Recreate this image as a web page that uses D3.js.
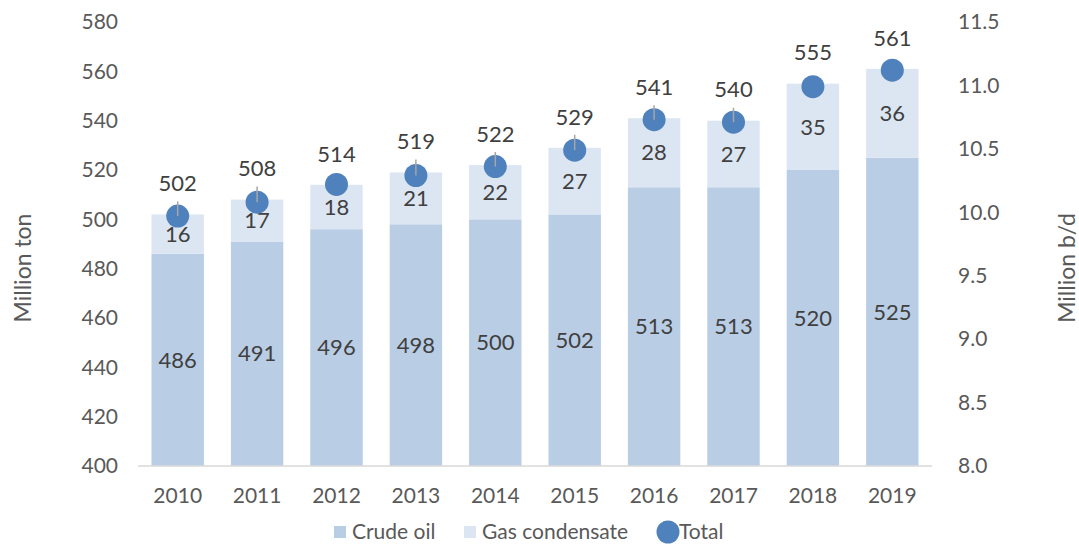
<!DOCTYPE html>
<html>
<head>
<meta charset="utf-8">
<script src="https://cdn.jsdelivr.net/npm/d3@7"></script>
<style>
  body { margin: 0; background: #fff; }
  svg text { font-family: Lato, "Open Sans", sans-serif; }
</style>
</head>
<body>
<div id="chart"></div>
<script>
// Data
const years = ["2010", "2011", "2012", "2013", "2014", "2015", "2016", "2017", "2018", "2019"];
const crudeOil = [486, 491, 496, 498, 500, 502, 513, 513, 520, 525];
const gasCondensate = [16, 17, 18, 21, 22, 27, 28, 27, 35, 36];
const totals = [502, 508, 514, 519, 522, 529, 541, 540, 555, 561];
const totalBd = [9.97, 10.08, 10.22, 10.29, 10.36, 10.49, 10.73, 10.71, 10.99, 11.12];
const leaderYears = ["2010", "2011", "2013", "2014", "2015", "2016", "2017"];
const leftTicks = d3.range(400, 581, 20);
const rightTicks = d3.range(8, 11.51, 0.5);

const width = 1079;
const height = 546;
const margin = { top: 22, right: 147, bottom: 80, left: 138 };

const svg = d3.select("#chart")
  .append("svg")
  .attr("width", width)
  .attr("height", height);

const x = d3.scaleBand()
  .domain(years)
  .range([margin.left, width - margin.right])
  .paddingInner(0.34)
  .paddingOuter(0.17);

const y = d3.scaleLinear()
  .domain([400, 580])
  .range([height - margin.bottom, margin.top]);

const y2 = d3.scaleLinear()
  .domain([8, 11.5])
  .range([height - margin.bottom, margin.top]);

const rows = years.map((yr, i) => ({
  year: yr,
  crude: crudeOil[i],
  gas: gasCondensate[i],
  total: totals[i],
  bd: totalBd[i]
}));

const cx = (d) => x(d.year) + x.bandwidth() / 2;
const labelOffset = 31;

// Bars: crude oil
svg.append("g")
  .selectAll("rect")
  .data(rows)
  .join("rect")
  .attr("x", (d) => x(d.year))
  .attr("width", x.bandwidth())
  .attr("y", (d) => y(d.crude))
  .attr("height", (d) => y(400) - y(d.crude))
  .attr("fill", "#b9cde5");

// Bars: gas condensate stacked on top
svg.append("g")
  .selectAll("rect")
  .data(rows)
  .join("rect")
  .attr("x", (d) => x(d.year))
  .attr("width", x.bandwidth())
  .attr("y", (d) => y(d.crude + d.gas))
  .attr("height", (d) => y(d.crude) - y(d.crude + d.gas))
  .attr("fill", "#dce6f2");

// Baseline
svg.append("line")
  .attr("x1", margin.left)
  .attr("x2", width - margin.right)
  .attr("y1", y(400))
  .attr("y2", y(400))
  .attr("stroke", "#d9d9d9")
  .attr("stroke-width", 1.5);

// Left axis
const leftAxis = svg.append("g")
  .attr("transform", `translate(${margin.left - 20},0)`)
  .call(d3.axisLeft(y).tickValues(leftTicks).tickSize(0).tickPadding(0));
leftAxis.select(".domain").remove();
leftAxis.selectAll("text")
  .attr("fill", "#595959")
  .style("font-size", "21px");

// Right axis
const rightAxis = svg.append("g")
  .attr("transform", `translate(${width - margin.right + 26},0)`)
  .call(d3.axisRight(y2).tickValues(rightTicks).tickFormat(d3.format(".1f")).tickSize(0).tickPadding(0));
rightAxis.select(".domain").remove();
rightAxis.selectAll("text")
  .attr("fill", "#595959")
  .style("font-size", "21px");

// Bottom axis
const bottomAxis = svg.append("g")
  .attr("transform", `translate(0,${y(400)})`)
  .call(d3.axisBottom(x).tickSize(0).tickPadding(22));
bottomAxis.select(".domain").remove();
bottomAxis.selectAll("text")
  .attr("fill", "#595959")
  .style("font-size", "21px");

// Axis titles
svg.append("text")
  .attr("transform", `translate(31,${(y(400) + y(580)) / 2 + 24}) rotate(-90)`)
  .attr("text-anchor", "middle")
  .attr("fill", "#595959")
  .style("font-size", "23px")
  .text("Million ton");

svg.append("text")
  .attr("transform", `translate(1075,${(y(400) + y(580)) / 2 + 24}) rotate(-90)`)
  .attr("text-anchor", "middle")
  .attr("fill", "#595959")
  .style("font-size", "23px")
  .text("Million b/d");

// Segment labels
const labels = svg.append("g")
  .attr("fill", "#404040")
  .attr("text-anchor", "middle")
  .style("font-size", "22px");

labels.selectAll(".crude-lbl")
  .data(rows)
  .join("text")
  .attr("class", "crude-lbl")
  .attr("x", cx)
  .attr("y", (d) => y((400 + d.crude) / 2))
  .attr("dy", "0.35em")
  .text((d) => d.crude);

labels.selectAll(".gas-lbl")
  .data(rows)
  .join("text")
  .attr("class", "gas-lbl")
  .attr("x", cx)
  .attr("y", (d) => y(d.crude + d.gas / 2))
  .attr("dy", "0.35em")
  .text((d) => d.gas);

// Total dots (secondary axis)
svg.append("g")
  .selectAll("circle")
  .data(rows)
  .join("circle")
  .attr("cx", cx)
  .attr("cy", (d) => y2(d.bd))
  .attr("r", 11.5)
  .attr("fill", "#4f81bd");

// Leader lines from total dot to its label, drawn over the dot
svg.append("g")
  .selectAll("line")
  .data(rows.filter((d) => leaderYears.includes(d.year)))
  .join("line")
  .attr("x1", cx)
  .attr("x2", cx)
  .attr("y1", (d) => y(d.total) - labelOffset + 18)
  .attr("y2", (d) => y2(d.bd))
  .attr("stroke", "#a6a6a6")
  .attr("stroke-width", 1.5);

// Total labels
svg.append("g")
  .attr("fill", "#404040")
  .attr("text-anchor", "middle")
  .style("font-size", "22px")
  .selectAll("text")
  .data(rows)
  .join("text")
  .attr("x", cx)
  .attr("y", (d) => y(d.total) - labelOffset)
  .attr("dy", "0.35em")
  .text((d) => d.total);

// Legend
const legend = svg.append("g")
  .attr("transform", `translate(0,532)`)
  .style("font-size", "21px")
  .attr("fill", "#595959");

legend.append("rect")
  .attr("x", 334).attr("y", -6).attr("width", 12).attr("height", 12)
  .attr("fill", "#b9cde5");
legend.append("text")
  .attr("x", 352).attr("dy", "0.35em")
  .text("Crude oil");

legend.append("rect")
  .attr("x", 464).attr("y", -6).attr("width", 12).attr("height", 12)
  .attr("fill", "#dce6f2");
legend.append("text")
  .attr("x", 482).attr("dy", "0.35em")
  .text("Gas condensate");

legend.append("circle")
  .attr("cx", 668).attr("cy", 0).attr("r", 11.5)
  .attr("fill", "#4f81bd");
legend.append("text")
  .attr("x", 679).attr("dy", "0.35em")
  .text("Total");
</script>
</body>
</html>
